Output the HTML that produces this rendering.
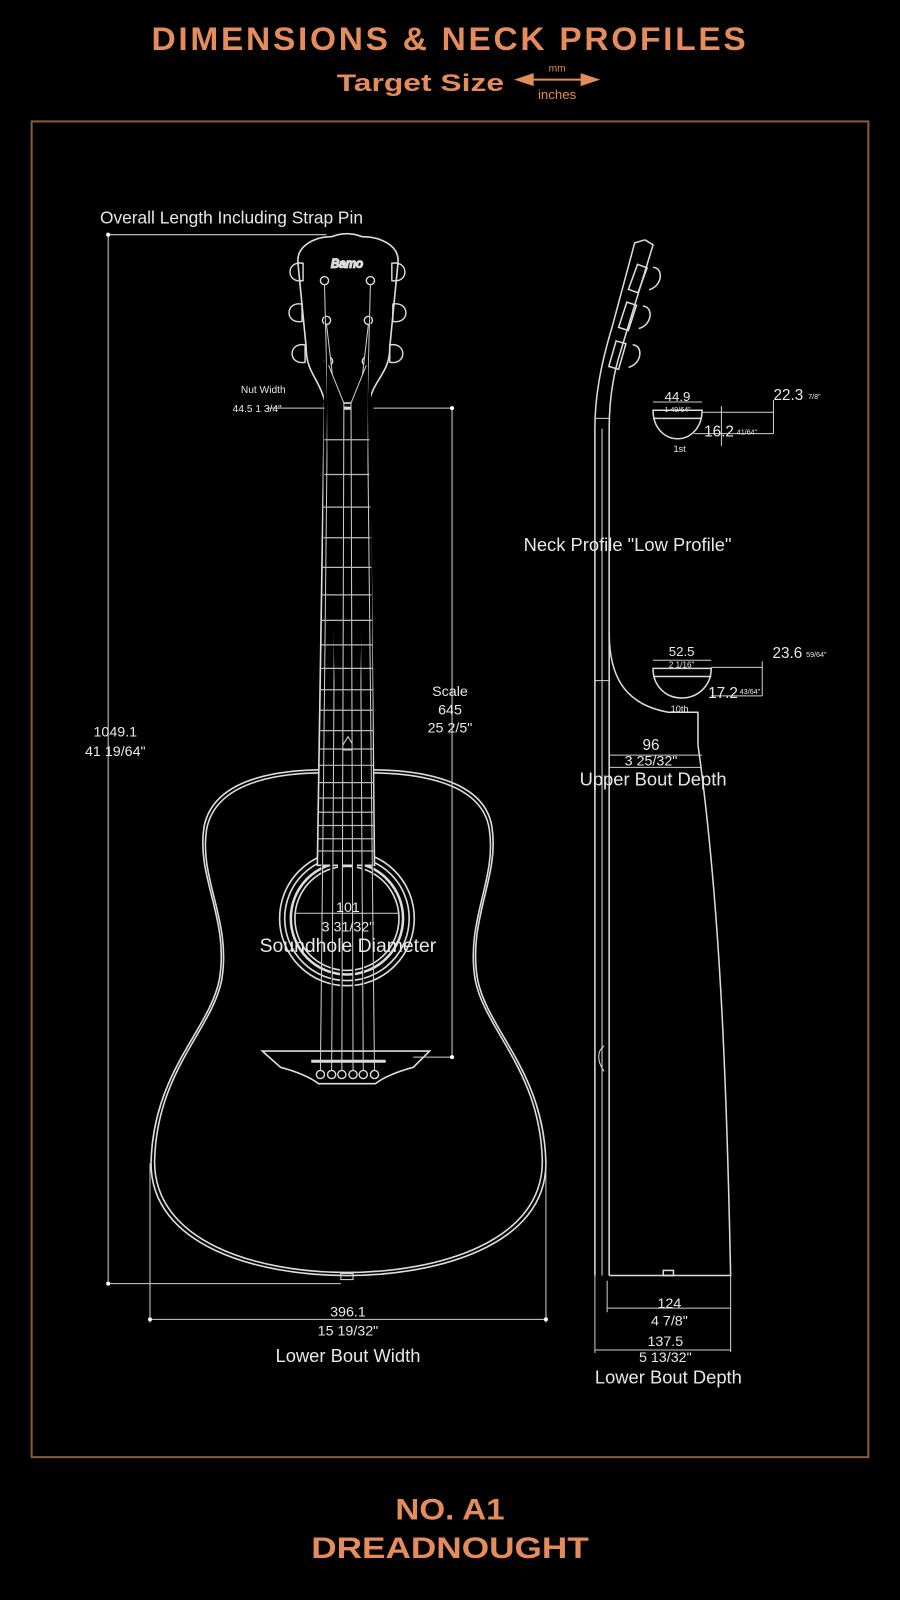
<!DOCTYPE html>
<html><head><meta charset="utf-8"><style>
html,body{margin:0;padding:0;background:#000;}
body{width:900px;height:1600px;overflow:hidden;}
svg{display:block;}
text{font-family:"Liberation Sans",sans-serif;fill:#e8e8e8;}
.t{fill:#e58c5c;font-weight:bold;}
</style></head><body>
<svg width="900" height="1600" viewBox="0 0 882 1568" xmlns="http://www.w3.org/2000/svg">
<rect width="882" height="1568" fill="#000"/>
<text class="t" x="441" y="49" text-anchor="middle" font-size="32" letter-spacing="2.6" textLength="585" lengthAdjust="spacingAndGlyphs">DIMENSIONS &amp; NECK PROFILES</text>
<text class="t" x="412" y="89" text-anchor="middle" font-size="24" textLength="164" lengthAdjust="spacingAndGlyphs">Target Size</text>
<text x="546" y="70" text-anchor="middle" font-size="10" style="fill:#e58c5c">mm</text>
<text x="546" y="97" text-anchor="middle" font-size="13" style="fill:#e58c5c">inches</text>
<g stroke="#e58c5c" stroke-width="2" fill="#e58c5c"><line x1="512" y1="78" x2="580" y2="78"/><path d="M507 78 L522 73 L522 83Z"/><path d="M585 78 L570 73 L570 83Z"/></g>
<rect x="31" y="119" width="820" height="1309" fill="none" stroke="#8a5a3c" stroke-width="2"/>

<g fill="none" stroke="#dcdcdc" stroke-width="1.6">
<path d="M340 755 C 280 752, 210 760, 200 810 C 192 860, 225 900, 215 960 C 205 1010, 150 1050, 148 1140 C 148 1220, 250 1250, 340 1250 C 430 1250, 535 1220, 535 1140 C 533 1050, 478 1010, 468 960 C 458 900, 490 860, 482 810 C 474 760, 400 752, 340 755 Z"/>
<path transform="translate(341 1000) scale(0.982 0.988) translate(-341 -1000)" d="M340 755 C 280 752, 210 760, 200 810 C 192 860, 225 900, 215 960 C 205 1010, 150 1050, 148 1140 C 148 1220, 250 1250, 340 1250 C 430 1250, 535 1220, 535 1140 C 533 1050, 478 1010, 468 960 C 458 900, 490 860, 482 810 C 474 760, 400 752, 340 755 Z"/>
<circle cx="340" cy="900" r="66"/><circle cx="340" cy="900" r="61"/><circle cx="340" cy="900" r="55" stroke-width="2.5"/><circle cx="340" cy="900" r="51"/>
<path d="M257 1030 L421 1030 L405 1046 C 390 1050, 375 1056, 368 1062 L312 1062 C 305 1056, 290 1050, 275 1046 Z"/>
<line x1="305" y1="1040" x2="378" y2="1040" stroke-width="3"/>
<path d="M318 395 L362 395 L367 848 L311 848 Z" fill="#000"/>
<line x1="318" y1="400" x2="362" y2="400" stroke-width="3"/>
<path d="M333 735 L341 722 L349 735 Z" stroke-width="1"/>
<path d="M318 392 C 312 370, 300 365, 300 340 L 292 258 C 290 240, 310 232, 325 232 C 335 228, 345 228, 355 232 C 372 232, 392 240, 390 258 L 382 340 C 382 365, 368 370, 362 392"/>
<text x="340" y="262" text-anchor="middle" font-size="12" font-style="italic" style="fill:#ddd">Bamo</text>
<g stroke-width="1.4">
<path d="M297 258 C 280 255, 280 278, 297 275 Z"/><path d="M296 298 C 279 295, 279 318, 296 315 Z"/><path d="M299 338 C 282 335, 282 358, 299 355 Z"/>
<path d="M384 258 C 401 255, 401 278, 384 275 Z"/><path d="M385 298 C 402 295, 402 318, 385 315 Z"/><path d="M382 338 C 399 335, 399 358, 382 355 Z"/>
<circle cx="318" cy="275" r="4"/><circle cx="320" cy="314" r="4"/><circle cx="322" cy="354" r="4"/>
<circle cx="363" cy="275" r="4"/><circle cx="361" cy="314" r="4"/><circle cx="359" cy="354" r="4"/>
</g>
</g>
<g stroke="#cfcfcf" stroke-width="1">
<path d="M318 279 L321 395 L314 1050"/><path d="M320 318 L329 395 L325 1050"/><path d="M322 358 L337 395 L335 1050"/>
<path d="M363 279 L360 395 L367 1050"/><path d="M361 318 L352 395 L356 1050"/><path d="M359 358 L344 395 L346 1050"/>
</g>
<g stroke="#bbb" stroke-width="1.2">
<line x1="318" y1="431" x2="362" y2="431"/><line x1="318" y1="465" x2="362" y2="465"/><line x1="317" y1="497" x2="363" y2="497"/><line x1="317" y1="527" x2="363" y2="527"/><line x1="316" y1="556" x2="364" y2="556"/><line x1="316" y1="583" x2="364" y2="583"/><line x1="315" y1="608" x2="365" y2="608"/><line x1="315" y1="632" x2="365" y2="632"/><line x1="315" y1="655" x2="365" y2="655"/><line x1="314" y1="676" x2="366" y2="676"/><line x1="314" y1="696" x2="366" y2="696"/><line x1="314" y1="716" x2="366" y2="716"/><line x1="313" y1="734" x2="366" y2="734"/><line x1="313" y1="750" x2="366" y2="750"/><line x1="313" y1="767" x2="366" y2="767"/><line x1="312" y1="782" x2="367" y2="782"/><line x1="312" y1="796" x2="367" y2="796"/><line x1="312" y1="809" x2="367" y2="809"/><line x1="312" y1="822" x2="367" y2="822"/><line x1="311" y1="834" x2="367" y2="834"/>
</g>
<g fill="#000" stroke="#ddd" stroke-width="1.4"><circle cx="314" cy="1053" r="4"/><circle cx="325" cy="1053" r="4"/><circle cx="335" cy="1053" r="4"/><circle cx="346" cy="1053" r="4"/><circle cx="356" cy="1053" r="4"/><circle cx="367" cy="1053" r="4"/></g>
<rect x="334" y="1248" width="12" height="6" fill="none" stroke="#ddd"/>

<g stroke="#cfcfcf" stroke-width="1" fill="none">
<line x1="106" y1="230" x2="320" y2="230"/><line x1="106" y1="230" x2="106" y2="1258"/><line x1="106" y1="1258" x2="334" y2="1258"/>
<line x1="443" y1="400" x2="443" y2="1036"/><line x1="366" y1="400" x2="443" y2="400"/><line x1="405" y1="1036" x2="443" y2="1036"/>
<line x1="147" y1="1293" x2="535" y2="1293"/><line x1="147" y1="1140" x2="147" y2="1296"/><line x1="535" y1="1140" x2="535" y2="1296"/>
<line x1="262" y1="400" x2="318" y2="400"/>
<line x1="289" y1="895" x2="391" y2="895"/>
</g>
<g fill="#fff"><circle cx="106" cy="230" r="2"/><circle cx="106" cy="1258" r="2"/><circle cx="443" cy="400" r="2"/><circle cx="443" cy="1036" r="2"/><circle cx="147" cy="1293" r="2"/><circle cx="535" cy="1293" r="2"/></g>
<text x="98" y="219" font-size="17">Overall Length Including Strap Pin</text>
<text x="258" y="385" text-anchor="middle" font-size="10">Nut Width</text>
<text x="252" y="404" text-anchor="middle" font-size="10">44.5  1 3/4"</text>
<text x="113" y="722" text-anchor="middle" font-size="14">1049.1</text>
<text x="113" y="741" text-anchor="middle" font-size="14">41 19/64"</text>
<text x="441" y="682" text-anchor="middle" font-size="14">Scale</text>
<text x="441" y="700" text-anchor="middle" font-size="14">645</text>
<text x="441" y="718" text-anchor="middle" font-size="14">25 2/5"</text>
<text x="341" y="894" text-anchor="middle" font-size="14">101</text>
<text x="341" y="913" text-anchor="middle" font-size="14">3 31/32"</text>
<text x="341" y="933" text-anchor="middle" font-size="19">Soundhole Diameter</text>
<text x="341" y="1290" text-anchor="middle" font-size="14">396.1</text>
<text x="341" y="1309" text-anchor="middle" font-size="14">15 19/32"</text>
<text x="341" y="1335" text-anchor="middle" font-size="18">Lower Bout Width</text>

<g fill="none" stroke="#dcdcdc" stroke-width="1.5">
<path d="M583 1250 L583 420 C 583 390, 588 360, 600 320 L 622 238 L 632 235"/>
<path d="M597 1250 L597 420 C 597 395, 600 370, 608 345 L 640 240 L 632 235"/>
<line x1="590" y1="420" x2="590" y2="1250" stroke-width="1"/>
<path d="M597 620 C 597 660, 610 690, 655 698 L 684 698 L 684 730"/>
<path d="M597 1250 L716 1250 C 712 1050, 705 880, 684 730"/>
<path d="M592 1050 C 585 1040, 585 1030, 592 1025" stroke-width="1"/>
<rect x="612" y="268" width="26" height="10" transform="rotate(-70 625 273)"/>
<rect x="602" y="305" width="26" height="10" transform="rotate(-72 615 310)"/>
<rect x="592" y="343" width="26" height="10" transform="rotate(-74 605 348)"/>
<path d="M640 262 C 650 262, 650 280, 636 284"/><path d="M630 300 C 640 300, 640 318, 626 322"/><path d="M620 338 C 630 338, 630 356, 616 360"/>
<rect x="650" y="1245" width="10" height="5"/>
<path d="M640 402 L688 402 C 688 420, 676 430, 664 430 C 652 430, 640 420, 640 402 Z"/>
<line x1="640" y1="410" x2="688" y2="410"/>
<path d="M640 655 L697 655 C 697 672, 684 684, 668 684 C 652 684, 640 672, 640 655 Z"/>
<line x1="640" y1="663" x2="697" y2="663"/>
</g>
<g stroke="#cfcfcf" stroke-width="1" fill="none">
<line x1="583" y1="410" x2="597" y2="410"/><line x1="583" y1="667" x2="597" y2="667"/>
<line x1="640" y1="394" x2="688" y2="394"/><line x1="688" y1="404" x2="758" y2="404"/><line x1="680" y1="425" x2="758" y2="425"/><line x1="758" y1="392" x2="758" y2="425"/><line x1="707" y1="398" x2="707" y2="437"/>
<line x1="640" y1="647" x2="697" y2="647"/><line x1="697" y1="654" x2="747" y2="654"/><line x1="697" y1="682" x2="747" y2="682"/><line x1="747" y1="648" x2="747" y2="682"/>
<line x1="597" y1="740" x2="688" y2="740"/><line x1="597" y1="752" x2="688" y2="752"/>
<line x1="595" y1="1282" x2="716" y2="1282"/><line x1="595" y1="1255" x2="595" y2="1286"/><line x1="716" y1="1250" x2="716" y2="1325"/>
<line x1="583" y1="1323" x2="716" y2="1323"/><line x1="583" y1="1250" x2="583" y2="1326"/>
</g>
<text x="664" y="393" text-anchor="middle" font-size="13">44.9</text>
<text x="664" y="404" text-anchor="middle" font-size="7">1 49/64"</text>
<text x="666" y="443" text-anchor="middle" font-size="9">1st</text>
<text x="690" y="428" font-size="15">16.2</text><text x="722" y="426" font-size="7">41/64"</text>
<text x="758" y="392" font-size="15">22.3</text><text x="792" y="391" font-size="7">7/8"</text>
<text x="615" y="540" text-anchor="middle" font-size="18">Neck Profile "Low Profile"</text>
<text x="668" y="643" text-anchor="middle" font-size="13">52.5</text>
<text x="668" y="654" text-anchor="middle" font-size="8">2 1/16"</text>
<text x="666" y="698" text-anchor="middle" font-size="9">10th</text>
<text x="694" y="684" font-size="15">17.2</text><text x="725" y="680" font-size="7">43/64"</text>
<text x="757" y="645" font-size="15">23.6</text><text x="790" y="644" font-size="7">59/64"</text>
<text x="638" y="735" text-anchor="middle" font-size="15">96</text>
<text x="638" y="750" text-anchor="middle" font-size="14">3 25/32"</text>
<text x="640" y="770" text-anchor="middle" font-size="18">Upper Bout Depth</text>
<text x="656" y="1282" text-anchor="middle" font-size="14">124</text>
<text x="656" y="1299" text-anchor="middle" font-size="14">4 7/8"</text>
<text x="652" y="1319" text-anchor="middle" font-size="14">137.5</text>
<text x="652" y="1335" text-anchor="middle" font-size="14">5 13/32"</text>
<text x="655" y="1356" text-anchor="middle" font-size="18">Lower Bout Depth</text>

<text class="t" x="441" y="1489" text-anchor="middle" font-size="29" textLength="107" lengthAdjust="spacingAndGlyphs">NO. A1</text>
<text class="t" x="441" y="1527" text-anchor="middle" font-size="29" textLength="272" lengthAdjust="spacingAndGlyphs">DREADNOUGHT</text>
</svg>
</body></html>
